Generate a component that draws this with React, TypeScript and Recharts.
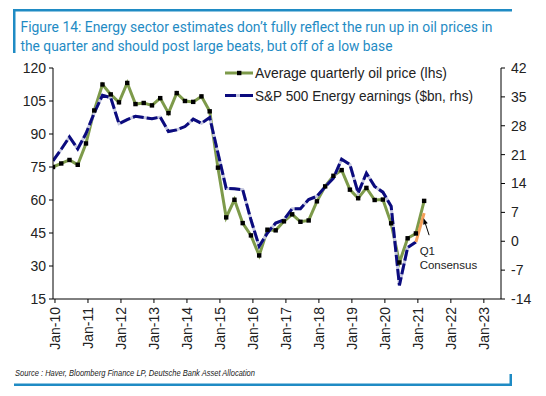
import React from "react";
import { LineChart, Line, XAxis, YAxis, ReferenceDot } from "recharts";

const FONT = "'Liberation Sans', Arial, sans-serif";
const TITLE_FONT = "Roboto, 'Liberation Sans', Arial, sans-serif";

const quarters = [
  "Q4-09",
  "Q1-10", "Q2-10", "Q3-10", "Q4-10",
  "Q1-11", "Q2-11", "Q3-11", "Q4-11",
  "Q1-12", "Q2-12", "Q3-12", "Q4-12",
  "Q1-13", "Q2-13", "Q3-13", "Q4-13",
  "Q1-14", "Q2-14", "Q3-14", "Q4-14",
  "Q1-15", "Q2-15", "Q3-15", "Q4-15",
  "Q1-16", "Q2-16", "Q3-16", "Q4-16",
  "Q1-17", "Q2-17", "Q3-17", "Q4-17",
  "Q1-18", "Q2-18", "Q3-18", "Q4-18",
  "Q1-19", "Q2-19", "Q3-19", "Q4-19",
  "Q1-20", "Q2-20", "Q3-20", "Q4-20",
  "Q1-21",
];

// Average quarterly oil price (lhs)
const oilPrice = [
  75.0,
  76.6, 78.2, 76.0, 85.7,
  100.7, 112.5, 108.0, 104.4,
  113.2, 103.6, 104.1, 103.0,
  106.3, 99.5, 108.6, 105.0,
  104.6, 107.1, 100.3, 74.7,
  52.1, 60.1, 49.5, 43.9,
  34.8, 46.5, 46.2, 50.3,
  53.5, 50.1, 50.7, 59.4,
  66.2, 71.0, 73.6, 64.7,
  60.8, 65.5, 60.0, 60.2,
  49.4, 31.6, 42.6, 44.8,
  59.6,
];

// S&P 500 Energy earnings ($bn, rhs) – actuals through Q4-20
const energyEarnings = [
  19.5,
  22.3, 25.3, 22.4, 26.1,
  31.1, 35.4, 34.8, 28.5,
  29.5, 30.3, 30.0, 29.7,
  30.1, 26.6, 27.0, 27.8,
  29.6, 28.6, 30.0, 21.4,
  12.8, 12.7, 12.5, 5.2,
  -1.2, 2.0, 4.4, 5.2,
  7.9, 7.9, 10.1, 10.9,
  13.2, 15.3, 19.9, 18.6,
  11.7, 16.5, 13.3, 11.9,
  8.5, -10.7, -1.5, -0.2,
];

// Q1 consensus segment
const consensusQuarters = ["Q4-20", "Q1-21"];
const consensusEarnings = [-0.2, 6.8];

const xTickYears = [2010, 2011, 2012, 2013, 2014, 2015, 2016, 2017, 2018, 2019, 2020, 2021, 2022, 2023];
const leftTicks = [15, 30, 45, 60, 75, 90, 105, 120];
const rightTicks = [-14, -7, 0, 7, 14, 21, 28, 35, 42];

const FIRST_QUARTER_YEAR = 2009.94;
const X_DOMAIN: [number, number] = [2009.94, 2023.52];

const quarterToYear = (q: string) => FIRST_QUARTER_YEAR + quarters.indexOf(q) * 0.25;

const rows = quarters.map((q, i) => {
  const ci = consensusQuarters.indexOf(q);
  return {
    q,
    t: quarterToYear(q),
    oil: oilPrice[i],
    earn: i < energyEarnings.length ? energyEarnings[i] : null,
    cons: ci >= 0 ? consensusEarnings[ci] : null,
  };
});

const GREEN = "#7D9A4A";
const NAVY = "#0B0B7E";
const LAVENDER = "#C4C7DE";
const ORANGE = "#F6A05A";
const BLUE = "#1F8BC4";

const SquareDot = (props: any) => {
  const { cx, cy, index } = props;
  if (cx == null || cy == null) return <g key={`d${index}`} />;
  return <rect key={`d${index}`} x={cx - 2.2} y={cy - 2.2} width={4.4} height={4.4} fill="#000" />;
};

const XTick = (props: any) => {
  const { x, y, payload } = props;
  const label = `Jan-${String(payload.value).slice(2)}`;
  return (
    <text
      x={x}
      y={y}
      transform={`rotate(-90 ${x} ${y})`}
      textAnchor="end"
      dominantBaseline="central"
      fontSize={14}
      fontFamily={FONT}
      fill="#222"
    >
      {label}
    </text>
  );
};

const ConsensusNote = (props: any) => {
  const { cx, cy } = props;
  if (cx == null || cy == null) return null;
  const tipX = cx - 0.5;
  const tipY = cy + 5;
  const tailX = cx + 5;
  const tailY = cy + 22;
  const ang = Math.atan2(tipY - tailY, tipX - tailX);
  const L = 6;
  const W = 2.4;
  const bx = tipX - L * Math.cos(ang);
  const by = tipY - L * Math.sin(ang);
  const px = -Math.sin(ang) * W;
  const py = Math.cos(ang) * W;
  return (
    <g>
      <line x1={tailX} y1={tailY} x2={bx} y2={by} stroke="#000" strokeWidth={1} />
      <polygon points={`${tipX},${tipY} ${bx + px},${by + py} ${bx - px},${by - py}`} fill="#000" />
      <text x={cx - 4.5} y={cy + 41.7} fontSize={11.5} fontFamily={FONT} fill="#222">Q1</text>
      <text x={cx - 4.5} y={cy + 55.7} fontSize={11.5} fontFamily={FONT} fill="#222">Consensus</text>
    </g>
  );
};

export default function App() {
  const lastQ = consensusQuarters[consensusQuarters.length - 1];
  return (
    <div style={{ position: "absolute", left: 0, top: 0, width: 546, height: 396, background: "#fff", overflow: "hidden" }}>
      <div style={{ position: "absolute", left: 0, top: 0 }}>
        <LineChart width={546} height={396} data={rows} margin={{ top: 68, right: 0, bottom: 37, left: 0 }}>
          <XAxis
            dataKey="t"
            type="number"
            domain={X_DOMAIN}
            ticks={xTickYears}
            interval={0}
            height={60}
            tickSize={4}
            tickMargin={4}
            tick={<XTick />}
            axisLine={{ stroke: "#000" }}
            tickLine={{ stroke: "#000" }}
            allowDataOverflow
          />
          <YAxis
            yAxisId="left"
            domain={[15, 120]}
            ticks={leftTicks}
            interval={0}
            width={53}
            tickSize={4}
            tickMargin={3}
            tick={{ fontSize: 14, fill: "#222", fontFamily: FONT }}
            axisLine={{ stroke: "#000" }}
            tickLine={{ stroke: "#000" }}
            allowDataOverflow
          />
          <YAxis
            yAxisId="right"
            orientation="right"
            domain={[-14, 42]}
            ticks={rightTicks}
            interval={0}
            width={45}
            tickSize={4}
            tickMargin={6}
            tick={{ fontSize: 14, fill: "#222", fontFamily: FONT }}
            axisLine={{ stroke: "#000" }}
            tickLine={{ stroke: "#000" }}
            allowDataOverflow
          />
          <Line
            yAxisId="left"
            dataKey="oil"
            stroke={GREEN}
            strokeWidth={3}
            dot={<SquareDot />}
            isAnimationActive={false}
          />
          <Line
            yAxisId="right"
            dataKey="earn"
            stroke={LAVENDER}
            strokeWidth={3}
            dot={false}
            isAnimationActive={false}
          />
          <Line
            yAxisId="right"
            dataKey="earn"
            stroke={NAVY}
            strokeWidth={3}
            strokeDasharray="11 3"
            dot={false}
            isAnimationActive={false}
          />
          <Line
            yAxisId="right"
            dataKey="cons"
            stroke={ORANGE}
            strokeWidth={3}
            dot={false}
            isAnimationActive={false}
          />
          <ReferenceDot
            yAxisId="right"
            x={quarterToYear(lastQ)}
            y={consensusEarnings[consensusEarnings.length - 1]}
            r={0}
            ifOverflow="visible"
            shape={<ConsensusNote />}
          />
        </LineChart>
      </div>
      <svg
        width={546}
        height={396}
        style={{ position: "absolute", left: 0, top: 0, pointerEvents: "none" }}
      >
        {/* frame */}
        <rect x={13} y={9} width={499} height={2.5} fill={BLUE} />
        <rect x={13} y={9} width={2.5} height={44} fill={BLUE} />
        <rect x={14} y={383.5} width={498} height={2.5} fill={BLUE} />
        <rect x={509.5} y={374} width={2.5} height={12} fill={BLUE} />
        {/* title */}
        <text x={20.5} y={31.5} fontSize={14.5} fontFamily={TITLE_FONT} fill={BLUE} textLength={472} lengthAdjust="spacingAndGlyphs">
          Figure 14: Energy sector estimates don’t fully reflect the run up in oil prices in
        </text>
        <text x={20.5} y={51} fontSize={14.5} fontFamily={TITLE_FONT} fill={BLUE} textLength={372} lengthAdjust="spacingAndGlyphs">
          the quarter and should post large beats, but off of a low base
        </text>
        {/* legend */}
        <line x1={225} y1={73} x2={253} y2={73} stroke={GREEN} strokeWidth={3} />
        <rect x={237} y={70.8} width={4.4} height={4.4} fill="#000" />
        <text x={255} y={78} fontSize={14} fontFamily={FONT} fill="#222" textLength={192} lengthAdjust="spacingAndGlyphs">
          Average quarterly oil price (lhs)
        </text>
        <line x1={225} y1={95.5} x2={253} y2={95.5} stroke={LAVENDER} strokeWidth={3} />
        <line x1={225} y1={95.5} x2={236} y2={95.5} stroke={NAVY} strokeWidth={3} />
        <line x1={240} y1={95.5} x2={253} y2={95.5} stroke={NAVY} strokeWidth={3} />
        <text x={255} y={100.5} fontSize={14} fontFamily={FONT} fill="#222" textLength={218} lengthAdjust="spacingAndGlyphs">
          S&amp;P 500 Energy earnings ($bn, rhs)
        </text>
        {/* source */}
        <text x={15} y={375.5} fontSize={8.5} fontStyle="italic" fontFamily={FONT} fill="#222" textLength={240} lengthAdjust="spacingAndGlyphs">
          Source : Haver, Bloomberg Finance LP, Deutsche Bank Asset Allocation
        </text>
      </svg>
    </div>
  );
}
